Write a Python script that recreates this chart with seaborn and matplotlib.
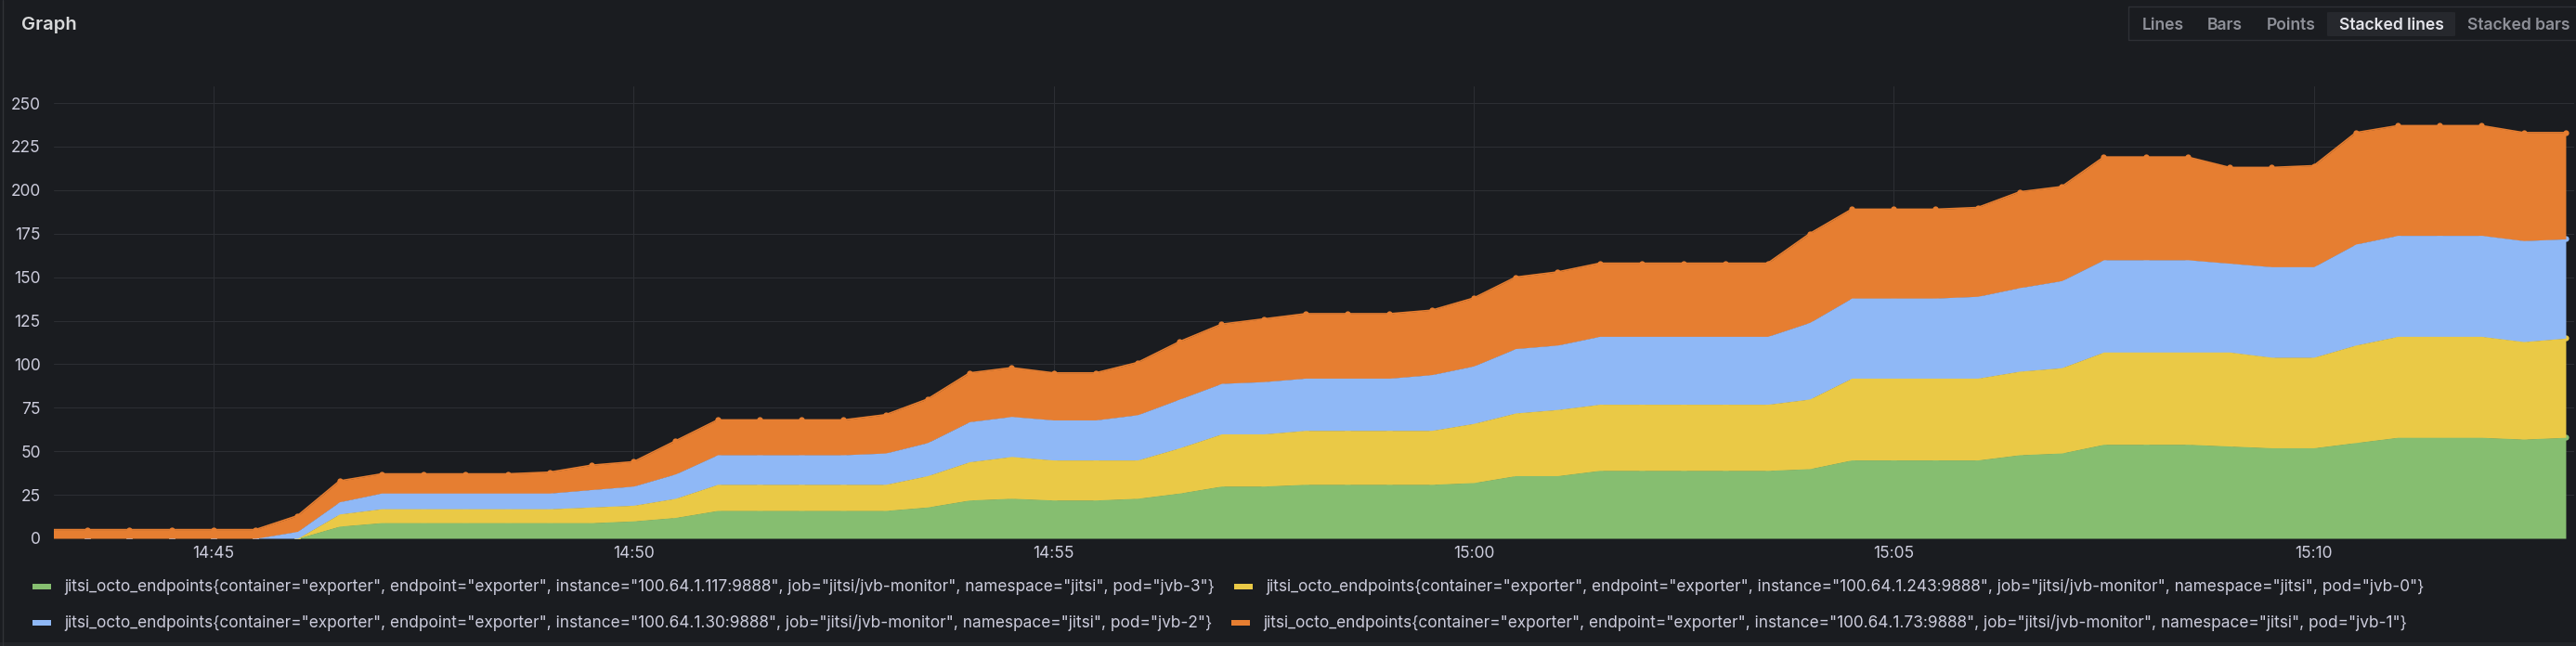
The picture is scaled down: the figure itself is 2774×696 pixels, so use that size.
import numpy as np
import pandas as pd
import matplotlib
matplotlib.use("Agg")
import matplotlib.pyplot as plt
import matplotlib.dates as mdates
from matplotlib.patches import Rectangle, FancyBboxPatch
from matplotlib.lines import Line2D
import seaborn as sns

# samples every 30 s, 14:43:00 .. 15:13:00
times = pd.date_range("2021-06-01 14:43:00", "2021-06-01 15:13:00", freq="30s")

# stacked bottom -> top: jvb-3 (green), jvb-0 (yellow), jvb-2 (blue), jvb-1 (orange)
jvb3 = [0, 0, 0, 0, 0, 0, 0, 7, 9, 9, 9, 9, 9, 9, 10, 12, 16, 16, 16, 16,
        16, 18, 22, 23, 22, 22, 23, 26, 30, 30, 31, 31, 31, 31, 32, 36, 36, 39, 39, 39,
        39, 39, 40, 45, 45, 45, 45, 48, 49, 54, 54, 54, 53, 52, 52, 55, 58, 58, 58, 57,
        58]
jvb0 = [0, 0, 0, 0, 0, 0, 0, 7, 8, 8, 8, 8, 8, 9, 9, 11, 15, 15, 15, 15,
        15, 18, 22, 24, 23, 23, 22, 26, 30, 30, 31, 31, 31, 31, 34, 36, 38, 38, 38, 38,
        38, 38, 40, 47, 47, 47, 47, 48, 49, 53, 53, 53, 54, 52, 52, 56, 58, 58, 58, 56,
        57]
jvb2 = [0, 0, 0, 0, 0, 0, 4, 7, 9, 9, 9, 9, 9, 10, 11, 14, 17, 17, 17, 17,
        18, 19, 23, 23, 23, 23, 26, 28, 29, 30, 30, 30, 30, 32, 33, 37, 37, 39, 39, 39,
        39, 39, 44, 46, 46, 46, 47, 48, 50, 53, 53, 53, 51, 52, 52, 58, 58, 58, 58, 58,
        57]
jvb1 = [5, 5, 5, 5, 5, 5, 9, 12, 11, 11, 11, 11, 12, 14, 14, 19, 20, 20, 20, 20,
        22, 25, 28, 28, 27, 27, 30, 33, 34, 36, 37, 37, 37, 37, 39, 41, 42, 42, 42, 42,
        42, 42, 51, 51, 51, 51, 51, 55, 54, 59, 59, 59, 55, 57, 58, 64, 63, 63, 63, 62,
        61]

series_values = [jvb3, jvb0, jvb2, jvb1]
series_colors = ["#86BE70", "#EAC946", "#8FB8F6", "#E67E31"]

legend_labels = [
    'jitsi_octo_endpoints{container="exporter", endpoint="exporter", instance="100.64.1.117:9888", job="jitsi/jvb-monitor", namespace="jitsi", pod="jvb-3"}',
    'jitsi_octo_endpoints{container="exporter", endpoint="exporter", instance="100.64.1.243:9888", job="jitsi/jvb-monitor", namespace="jitsi", pod="jvb-0"}',
    'jitsi_octo_endpoints{container="exporter", endpoint="exporter", instance="100.64.1.30:9888", job="jitsi/jvb-monitor", namespace="jitsi", pod="jvb-2"}',
    'jitsi_octo_endpoints{container="exporter", endpoint="exporter", instance="100.64.1.73:9888", job="jitsi/jvb-monitor", namespace="jitsi", pod="jvb-1"}',
]
legend_rows = [[0, 1], [2, 3]]

y_ticks = list(range(0, 251, 25))
panel_title = "Graph"
modes = ["Lines", "Bars", "Points", "Stacked lines", "Stacked bars"]
selected_mode = "Stacked lines"

W, H = 2774, 696
BG = "#1A1C20"
GRID = "#2C2E33"
TXT = "#CCCCDC"

sns.set_theme(style="dark", rc={"figure.facecolor": BG, "axes.facecolor": BG})
plt.rcParams["font.family"] = ["Inter", "DejaVu Sans"]


def fx(px):
    return px / W


def fy(py):
    return 1 - py / H


fig = plt.figure(figsize=(W / 100, H / 100), dpi=100)
ax = fig.add_axes([fx(58), fy(580), (2772 - 58) / W, (580 - 93) / H])

stack = np.zeros(len(times))
for i, (vals, col) in enumerate(zip(series_values, series_colors)):
    top = stack + np.array(vals, dtype=float)
    ax.fill_between(times, stack, top, color=col, linewidth=0, zorder=2 + 2 * i)
    sns.lineplot(x=times, y=top, ax=ax, color=col, linewidth=1.2, marker="o",
                 markersize=4.5, markeredgewidth=0, zorder=3 + 2 * i)
    stack = top

ax.set_xlim(pd.Timestamp("2021-06-01 14:43:06"), pd.Timestamp("2021-06-01 15:13:06"))
ax.set_ylim(0, 259.6)
ax.set_yticks(y_ticks)
ax.xaxis.set_major_locator(mdates.MinuteLocator(byminute=range(0, 60, 5)))
ax.xaxis.set_major_formatter(mdates.DateFormatter("%H:%M"))
ax.set_xlabel("")
ax.set_ylabel("")
ax.grid(True, color=GRID, linewidth=0.75)
ax.set_axisbelow(True)
for s in ax.spines.values():
    s.set_visible(False)
ax.tick_params(axis="y", length=4.3, width=0.75, color=GRID, pad=6,
               labelsize=12.5, labelcolor=TXT)
ax.tick_params(axis="x", length=0, pad=6, labelsize=12.5, labelcolor=TXT)

renderer = fig.canvas.get_renderer()

# legend, two rows
legend_fs = 12.5
probe = fig.text(0, 0, legend_labels[0], fontsize=legend_fs)
legend_fs = legend_fs * 1235 / probe.get_window_extent(renderer).width
probe.remove()
row_y = [632, 671]
for r, idxs in enumerate(legend_rows):
    x = 35
    for k in idxs:
        fig.patches.append(Rectangle((fx(x), fy(row_y[r] + 3)), 20 / W, 6 / H,
                                     transform=fig.transFigure,
                                     facecolor=series_colors[k], edgecolor="none"))
        t = fig.text(fx(x + 34), fy(row_y[r]), legend_labels[k], ha="left", va="center",
                     fontsize=legend_fs, color=TXT)
        x = t.get_window_extent(renderer).x1 + 21

# title
fig.text(fx(23), fy(31.5), panel_title, fontsize=14.5, fontweight="semibold",
         color="#D8D9DA", va="baseline")

# mode selector
fig.patches.append(Rectangle((fx(2292), fy(43)), (2800 - 2292) / W, 36 / H,
                             transform=fig.transFigure, facecolor="none",
                             edgecolor="#2E3035", linewidth=1))
fig.patches.append(FancyBboxPatch((fx(2506), fy(39)), 138 / W, 26 / H,
                                  boxstyle="round,pad=0,rounding_size=0.001",
                                  transform=fig.transFigure, facecolor="#26282D",
                                  edgecolor="none"))
mode_x = [2329, 2396, 2467, 2575, 2712]
for m, mx in zip(modes, mode_x):
    sel = m == selected_mode
    fig.text(fx(mx), fy(27), m, ha="center", va="center", fontsize=12.6,
             fontweight="semibold", color="#E4E4EA" if sel else "#8E9098")

# panel edges
fig.add_artist(Line2D([fx(2.5), fx(2.5)], [0, 1], color="#303237", linewidth=1))
fig.patches.append(Rectangle((0, 0), 1, 4 / H, transform=fig.transFigure,
                             facecolor="#222428", edgecolor="none"))

fig.savefig("out.png", dpi=100, facecolor=BG)
